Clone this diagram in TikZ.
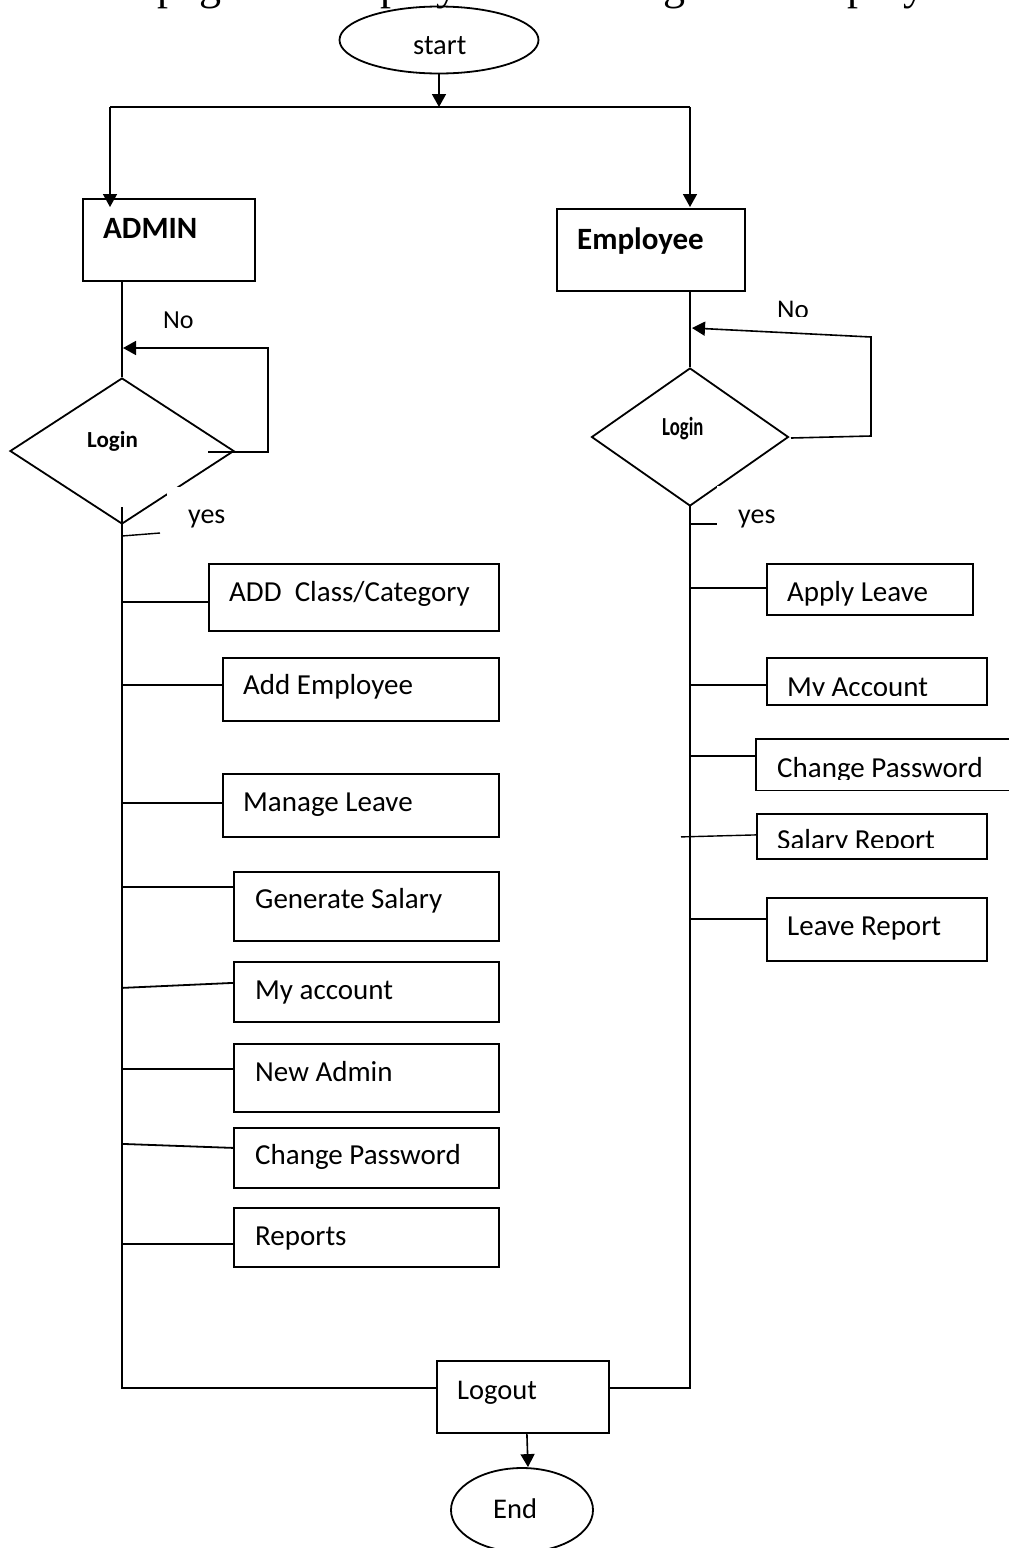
\documentclass[tikz,border=0pt]{standalone}
\usepackage{fontspec}
\setmainfont{Carlito}
\newfontfamily\hdrserif{Liberation Serif}
\usepackage{graphicx}
\usetikzlibrary{arrows.meta,shapes.geometric,calc}
\tikzset{
  ln/.style={line width=1.8pt},
  arr/.style={line width=1.6pt,-{Triangle[length=13pt,width=14pt]}},
  box/.style={draw, line width=1.8pt, rectangle, inner sep=0pt, anchor=north west},
  oval/.style={draw, line width=1.8pt, ellipse, inner sep=0pt},
  dia/.style={draw, line width=1.8pt, diamond, inner sep=0pt},
  lbl/.style={anchor=base west, inner sep=0pt, font=\fontsize{29}{34}\selectfont},
  olbl/.style={anchor=base west, inner sep=0pt, font=\fontsize{28.5}{34}\selectfont},
  blbl/.style={anchor=base west, inner sep=0pt, font=\bfseries\fontsize{31}{36}\selectfont},
  small/.style={anchor=base west, inner sep=0pt, font=\fontsize{26}{30}\selectfont},
}
\begin{document}
\begin{tikzpicture}[x=1pt,y=-1pt]
\useasboundingbox (0,0) rectangle (1009,1548);
\clip (0,0) rectangle (1009,1548);
% cut-off heading line
\node[anchor=base west, inner sep=0pt, font=\hdrserif\fontsize{44}{50}\selectfont] (hdr) at (-6,-1) {the main page and employee will navigate to employee home page};

% start / end
\node[oval, minimum width=199pt, minimum height=67pt] (start) at (439,40) {};
\node[olbl] (tstart) at (413,54) {start};

% top split
\coordinate (tl) at (110,107);
\coordinate (tr) at (690,107);
\draw[arr] (start.south) -- (start.south |- tl);
\draw[ln] (tl) -- (tr);

% ADMIN / Employee boxes
\node[box, minimum width=172pt, minimum height=82pt] (adm) at (82,198) {};
\node[blbl] (tadm) at (103,238) {ADMIN};
\node[box, minimum width=188pt, minimum height=82pt] (emp) at (556,208) {};
\node[blbl] (temp) at (577,249) {Employee};
\coordinate (admin-in) at (110,207);
\coordinate (emp-in) at (690,207);
\draw[arr] (tl) -- (admin-in);
\draw[arr] (tr) -- (emp-in);

% diamonds
\node[dia, minimum width=224pt, minimum height=146pt] (ld) at (122,451) {};
\node[dia, minimum width=197pt, minimum height=138pt] (rd) at (690,437) {};
\node[anchor=base west, inner sep=0pt, font=\bfseries\fontsize{23}{26}\selectfont] (tld) at (87,447) {Login};
\node[anchor=base west, inner sep=0pt, font=\bfseries\fontsize{26}{30}\selectfont] (trd) at (662,435) {\scalebox{0.72}[1]{Login}};

\draw[ln] (ld.north |- adm.south) -- (ld.north);
\draw[ln] (rd.north |- emp.south) -- (rd.north);

% No loops
\coordinate (la) at (208,452);
\coordinate (lb1) at (268,452);
\coordinate (lc) at (268,348);
\coordinate (ldd) at (123,348);
\draw[arr] (la) -- (lb1) -- (lc) -- (ldd);
\node[small] (tnol) at (163,328) {No};

\coordinate (ra) at (791,438);
\coordinate (rb1) at (871,436);
\coordinate (rc) at (871,337);
\coordinate (rdd) at (692,328);
\draw[arr] (ra) -- (rb1) -- (rc) -- (rdd);
\begin{scope}
\clip (760,280) rectangle (830,316);
\node[anchor=base west, inner sep=0pt, font=\fontsize{27}{30}\selectfont] (tnor) at (777,318) {No};
\end{scope}

% gaps in diamonds + yes labels
\fill[white] (167,487) rectangle (186,500);
\fill[white] (717,486) rectangle (732,496);
\node[olbl, font=\fontsize{28}{34}\selectfont] (tyesl) at (188,523) {yes};
\node[olbl, font=\fontsize{28}{34}\selectfont] (tyesr) at (738,523) {yes};

% main vertical lines and logout
\node[box, minimum width=172pt, minimum height=72pt] (logout) at (436,1360) {};
\node[olbl] (tlogout) at (457,1399) {Logout};
\node[oval, minimum width=142pt, minimum height=84pt] (End) at (522,1510) {};
\node[olbl] (tend) at (493,1518) {End};

\coordinate (lt) at (122,507);
\coordinate (lbot) at (122,1388);
\coordinate (rbot) at (690,1388);
\coordinate (rt) at (690,506);
\draw[ln] (lt) -- (lbot) -- (lbot -| logout.west);
\draw[ln] (rbot -| logout.east) -- (rbot) -- (rt);
\draw[arr] ($(logout.south)+(4,0)$) -- ($(End.north)+(6,0)$);

% stubs below diamonds
\coordinate (sl1) at (122,536);
\coordinate (sl2) at (160,533);
\draw[ln, line width=1.4pt] (sl1) -- (sl2);
\coordinate (sr1) at (690,524);
\coordinate (sr2) at (717,524);
\draw[ln, line width=1.4pt] (sr1) -- (sr2);

% admin boxes
\node[box, minimum width=290pt, minimum height=67pt] (b1) at (208,563) {};
\node[lbl] (tb1) at (229,601) {ADD\ \ Class/Category};
\node[box, minimum width=276pt, minimum height=63pt] (b2) at (222,657) {};
\node[lbl] (tb2) at (243,694) {Add Employee};
\node[box, minimum width=276pt, minimum height=63pt] (b3) at (222,773) {};
\node[lbl] (tb3) at (243,811) {Manage Leave};
\node[box, minimum width=265pt, minimum height=69pt] (b4) at (233,871) {};
\node[lbl] (tb4) at (255,908) {Generate Salary};
\node[box, minimum width=265pt, minimum height=60pt] (b5) at (233,961) {};
\node[lbl] (tb5) at (255,999) {My account};
\node[box, minimum width=265pt, minimum height=68pt] (b6) at (233,1043) {};
\node[lbl] (tb6) at (255,1081) {New Admin};
\node[box, minimum width=265pt, minimum height=60pt] (b7) at (233,1127) {};
\node[lbl] (tb7) at (255,1164) {Change Password};
\node[box, minimum width=265pt, minimum height=59pt] (b8) at (233,1207) {};
\node[lbl] (tb8) at (255,1245) {Reports};

\coordinate (c1) at ($(b1.west)+(0,4.5)$);
\coordinate (c2) at ($(b2.west)+(0,-4.5)$);
\coordinate (c3) at ($(b3.west)+(0,-2.5)$);
\coordinate (c4) at ($(b4.west)+(0,-19.5)$);
\coordinate (c5a) at ($(b5.west)+(0,-4)$);
\coordinate (c5b) at ($(b5.west)+(0,-9)$);
\coordinate (c6) at ($(b6.west)+(0,-9)$);
\coordinate (c7a) at ($(b7.west)+(0,-14)$);
\coordinate (c7b) at ($(b7.west)+(0,-10)$);
\coordinate (c8) at ($(b8.west)+(0,6.5)$);
\draw[ln] (c1 -| lt) -- (c1);
\draw[ln] (c2 -| lt) -- (c2);
\draw[ln] (c3 -| lt) -- (c3);
\draw[ln] (c4 -| lt) -- (c4);
\draw[ln] (c5a -| lt) -- (c5b);
\draw[ln] (c6 -| lt) -- (c6);
\draw[ln] (c7a -| lt) -- (c7b);
\draw[ln] (c8 -| lt) -- (c8);

% employee boxes
\node[box, minimum width=206pt, minimum height=51pt] (r1) at (766,563) {};
\node[lbl] (tr1) at (787,601) {Apply Leave};
\node[box, minimum width=220pt, minimum height=47pt] (r2) at (766,657) {};
\begin{scope}
\clip (770,650) rectangle (984,695);
\node[lbl] (tr2) at (787,696) {My Account};
\end{scope}
\node[inner sep=0pt, anchor=north west, minimum width=262pt, minimum height=51pt] (r3) at (756,739) {};
\draw[ln] (r3.north east) -- (r3.north west) -- (r3.south west) -- (r3.south east);
\begin{scope}
\clip (760,730) rectangle (1009,779);
\node[lbl] (tr3) at (777,777) {Change Password};
\end{scope}
\node[box, minimum width=230pt, minimum height=45pt] (r4) at (756,813) {};
\begin{scope}
\clip (760,805) rectangle (984,847);
\node[lbl] (tr4) at (777,849) {Salary Report};
\end{scope}
\node[box, minimum width=220pt, minimum height=63pt] (r5) at (766,897) {};
\node[lbl] (tr5) at (787,935) {Leave Report};

\coordinate (e1) at ($(r1.west)+(0,-1.5)$);
\coordinate (e2) at ($(r2.west)+(0,3.5)$);
\coordinate (e3) at ($(r3.west)+(0,-8.5)$);
\coordinate (e4a) at ($(r4.west)+(-75,0.5)$);
\coordinate (e4b) at ($(r4.west)+(0,-1.5)$);
\coordinate (e5) at ($(r5.west)+(0,-10.5)$);
\draw[ln] (e1 -| rt) -- (e1);
\draw[ln] (e2 -| rt) -- (e2);
\draw[ln] (e3 -| rt) -- (e3);
\draw[ln, line width=1.4pt] (e4a) -- (e4b);
\draw[ln] (e5 -| rt) -- (e5);
\end{tikzpicture}
\end{document}
